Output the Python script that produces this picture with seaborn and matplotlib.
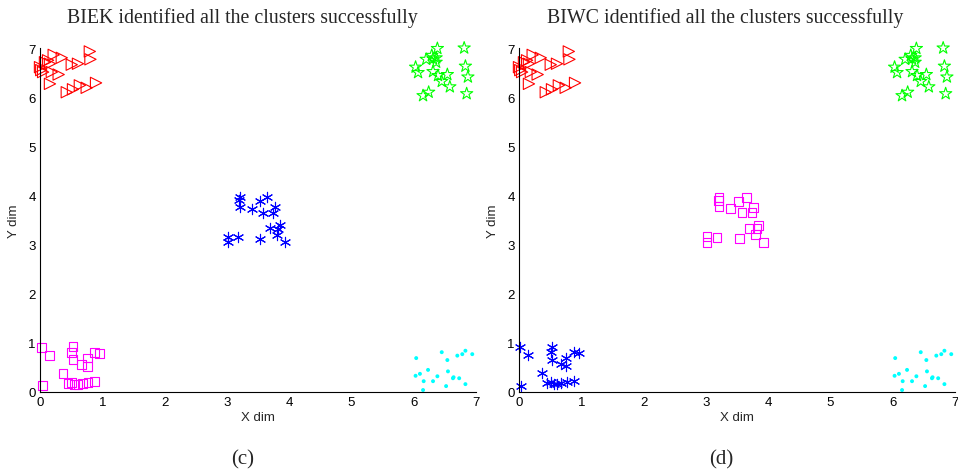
import matplotlib
matplotlib.use("Agg")
import matplotlib.pyplot as plt
import seaborn as sns
import pandas as pd

# ---- data ----
red_x = [0.00, 0.08, 0.13, 0.16, 0.22, 0.35, 0.05, 0.19, 0.30, 0.16, 0.51, 0.61, 0.80, 0.81, 0.43, 0.53, 0.64, 0.75, 0.90, 0.02]
red_y = [6.61, 6.71, 6.75, 6.68, 6.86, 6.80, 6.51, 6.51, 6.46, 6.27, 6.66, 6.68, 6.93, 6.77, 6.10, 6.16, 6.24, 6.19, 6.29, 6.55]

green_x = [6.38, 6.81, 6.20, 6.29, 6.31, 6.36, 6.03, 6.07, 6.31, 6.39, 6.54, 6.45, 6.58, 6.83, 6.87, 6.85, 6.15, 6.24, 6.36]
green_y = [6.99, 7.00, 6.77, 6.85, 6.78, 6.71, 6.61, 6.50, 6.52, 6.44, 6.46, 6.32, 6.21, 6.63, 6.41, 6.07, 6.03, 6.10, 6.80]

mid_x = [3.21, 3.20, 3.21, 3.40, 3.53, 3.65, 3.77, 3.58, 3.74, 3.02, 3.02, 3.18, 3.54, 3.70, 3.85, 3.82, 3.80, 3.93]
mid_y = [3.96, 3.90, 3.77, 3.73, 3.88, 3.96, 3.76, 3.65, 3.65, 3.16, 3.05, 3.15, 3.12, 3.33, 3.39, 3.32, 3.20, 3.05]

low_x = [0.02, 0.15, 0.53, 0.51, 0.53, 0.67, 0.76, 0.76, 0.88, 0.96, 0.37, 0.04, 0.45, 0.51, 0.56, 0.61, 0.68, 0.77, 0.88]
low_y = [0.91, 0.75, 0.92, 0.81, 0.66, 0.56, 0.69, 0.52, 0.81, 0.79, 0.38, 0.13, 0.18, 0.20, 0.16, 0.16, 0.18, 0.20, 0.22]

cyan_x = [6.45, 6.70, 6.78, 6.83, 6.94, 6.04, 6.54, 6.23, 6.10, 6.03, 6.55, 6.38, 6.63, 6.64, 6.73, 6.16, 6.31, 6.83, 6.52, 6.15]
cyan_y = [0.81, 0.74, 0.77, 0.84, 0.77, 0.69, 0.65, 0.45, 0.37, 0.33, 0.42, 0.32, 0.28, 0.30, 0.28, 0.22, 0.22, 0.16, 0.12, 0.04]

titles = ["BIEK identified all the clusters successfully",
          "BIWC identified all the clusters successfully"]
captions = ["(c)", "(d)"]
ticks = [0, 1, 2, 3, 4, 5, 6, 7]

sns.set_style("white", {"xtick.direction": "in", "ytick.direction": "in"})
plt.rcParams["font.family"] = ["Liberation Sans", "DejaVu Sans"]

fig = plt.figure(figsize=(9.58, 4.77), dpi=100)
ax_l = fig.add_axes([40 / 958, 84 / 477, 436 / 958, 344 / 477])
ax_r = fig.add_axes([519 / 958, 84 / 477, 436 / 958, 344 / 477])

lw = 0.8


def draw(ax, mid_style, low_style):
    sns.scatterplot(x=red_x, y=red_y, ax=ax, marker=">", s=66, color="red",
                    facecolor="none", edgecolor="red", linewidth=lw, clip_on=False)
    sns.scatterplot(x=green_x, y=green_y, ax=ax, marker="*", s=85, color="#00ff00",
                    facecolor="none", edgecolor="#00ff00", linewidth=lw, clip_on=False)
    sns.scatterplot(x=cyan_x, y=cyan_y, ax=ax, marker="o", s=8, color="cyan",
                    edgecolor="none", linewidth=0, clip_on=False)
    for xs, ys, style in [(mid_x, mid_y, mid_style), (low_x, low_y, low_style)]:
        if style == "blue":
            sns.scatterplot(x=xs, y=ys, ax=ax, marker=(6, 2, 0), s=55, color="blue",
                            linewidth=lw, clip_on=False)
        else:
            sns.scatterplot(x=xs, y=ys, ax=ax, marker="s", s=40, color="magenta",
                            facecolor="none", edgecolor="magenta", linewidth=lw, clip_on=False)
    ax.set_xlim(0, 7)
    ax.set_ylim(0, 7)
    ax.set_xticks(ticks)
    ax.set_yticks(ticks)
    ax.tick_params(axis="both", labelsize=9.5, length=4, width=0.8, colors="black",
                   direction="in", pad=3)
    for side in ["top", "right"]:
        ax.spines[side].set_visible(False)
    for side in ["left", "bottom"]:
        ax.spines[side].set_color("black")
        ax.spines[side].set_linewidth(0.8)
    ax.set_xlabel("X dim", fontsize=9.5, labelpad=2)
    ax.set_ylabel("Y dim", fontsize=9.5, labelpad=6)


draw(ax_l, "blue", "magenta")
draw(ax_r, "magenta", "blue")

fig.text(242 / 958, 1 - 18 / 477, titles[0], ha="center", va="center",
         fontsize=14.3, family="Liberation Serif")
fig.text(725 / 958, 1 - 18 / 477, titles[1], ha="center", va="center",
         fontsize=14.3, family="Liberation Serif")
fig.text(243 / 958, 1 - 460 / 477, captions[0], ha="center", va="center",
         fontsize=15, family="Liberation Serif")
fig.text(721 / 958, 1 - 460 / 477, captions[1], ha="center", va="center",
         fontsize=15, family="Liberation Serif")

fig.savefig("out.png", dpi=100)
